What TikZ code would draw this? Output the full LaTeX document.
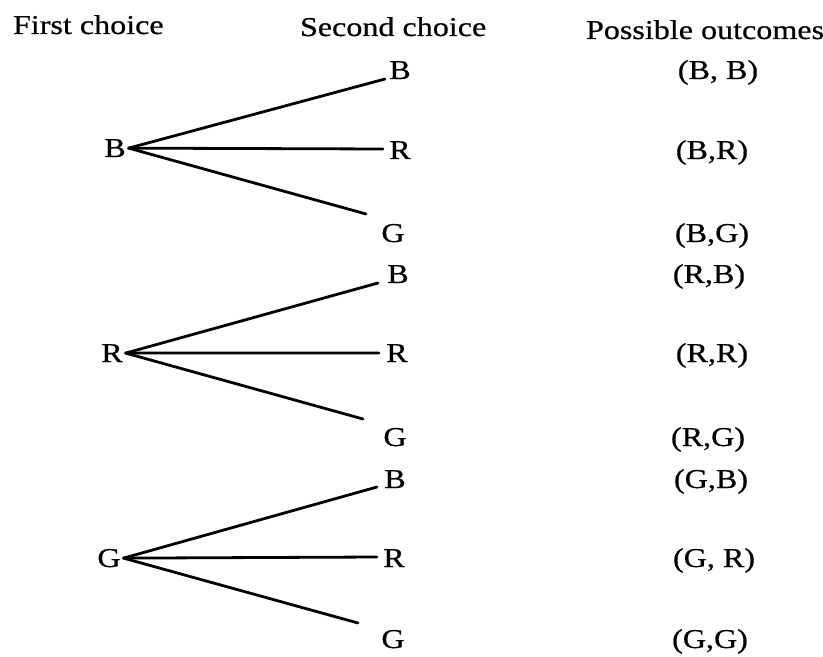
\documentclass[tikz,border=0pt]{standalone}
\usepackage{fontspec}
\setmainfont[FakeStretch=1.18,FakeBold=0.6]{Liberation Serif}
\begin{document}
\begin{tikzpicture}[x=0.5pt,y=-0.5pt,
  every node/.style={inner sep=0pt, outer sep=1.5pt, font=\fontsize{13.6}{16}\selectfont},
  lab/.style={anchor=base},
  head/.style={anchor=base west},
  branch/.style={line width=1.4pt, line cap=round}]
\useasboundingbox[fill=white] (0,0) rectangle (823,657);

% headers
\node[head] (h1) at (10,34) {First choice};
\node[head] (h2) at (297,36) {Second choice};
\node[head] (h3) at (583,39) {Possible outcomes};

% first choice
\node[lab] (B1) at (115,157) {B};
\node[lab] (R1) at (112,362) {R};
\node[lab] (G1) at (109,567) {G};

% second choice
\node[lab] (B1b) at (400,79) {B};
\node[lab] (B1r) at (400,159) {R};
\node[lab] (B1g) at (393,242) {G};
\node[lab] (R1b) at (398,283) {B};
\node[lab] (R1r) at (397,362) {R};
\node[lab] (R1g) at (395,446) {G};
\node[lab] (G1b) at (395,488) {B};
\node[lab] (G1r) at (394,567) {R};
\node[lab] (G1g) at (393,648) {G};

% outcomes
\node[lab] (oBB) at (718,79) {(B, B)};
\node[lab] (oBR) at (712,159) {(B,R)};
\node[lab] (oBG) at (712,242) {(B,G)};
\node[lab] (oRB) at (709,283) {(R,B)};
\node[lab] (oRR) at (712,362) {(R,R)};
\node[lab] (oRG) at (708,446) {(R,G)};
\node[lab] (oGB) at (711,488) {(G,B)};
\node[lab] (oGR) at (714,567) {(G, R)};
\node[lab] (oGG) at (710,648) {(G,G)};

% branch tips
\coordinate (e1u) at (385,79);
\coordinate (e1m) at (383,149);
\coordinate (e1l) at (366,214);
\coordinate (e2u) at (378,283);
\coordinate (e2m) at (379,353);
\coordinate (e2l) at (363,419);
\coordinate (e3u) at (377,487);
\coordinate (e3m) at (377,557);
\coordinate (e3l) at (358,623);

\draw[branch] (B1.east) -- (e1u);
\draw[branch] (B1.east) -- (e1m);
\draw[branch] (B1.east) -- (e1l);
\draw[branch] (R1.east) -- (e2u);
\draw[branch] (R1.east) -- (e2m);
\draw[branch] (R1.east) -- (e2l);
\draw[branch] (G1.east) -- (e3u);
\draw[branch] (G1.east) -- (e3m);
\draw[branch] (G1.east) -- (e3l);
\end{tikzpicture}
\end{document}
